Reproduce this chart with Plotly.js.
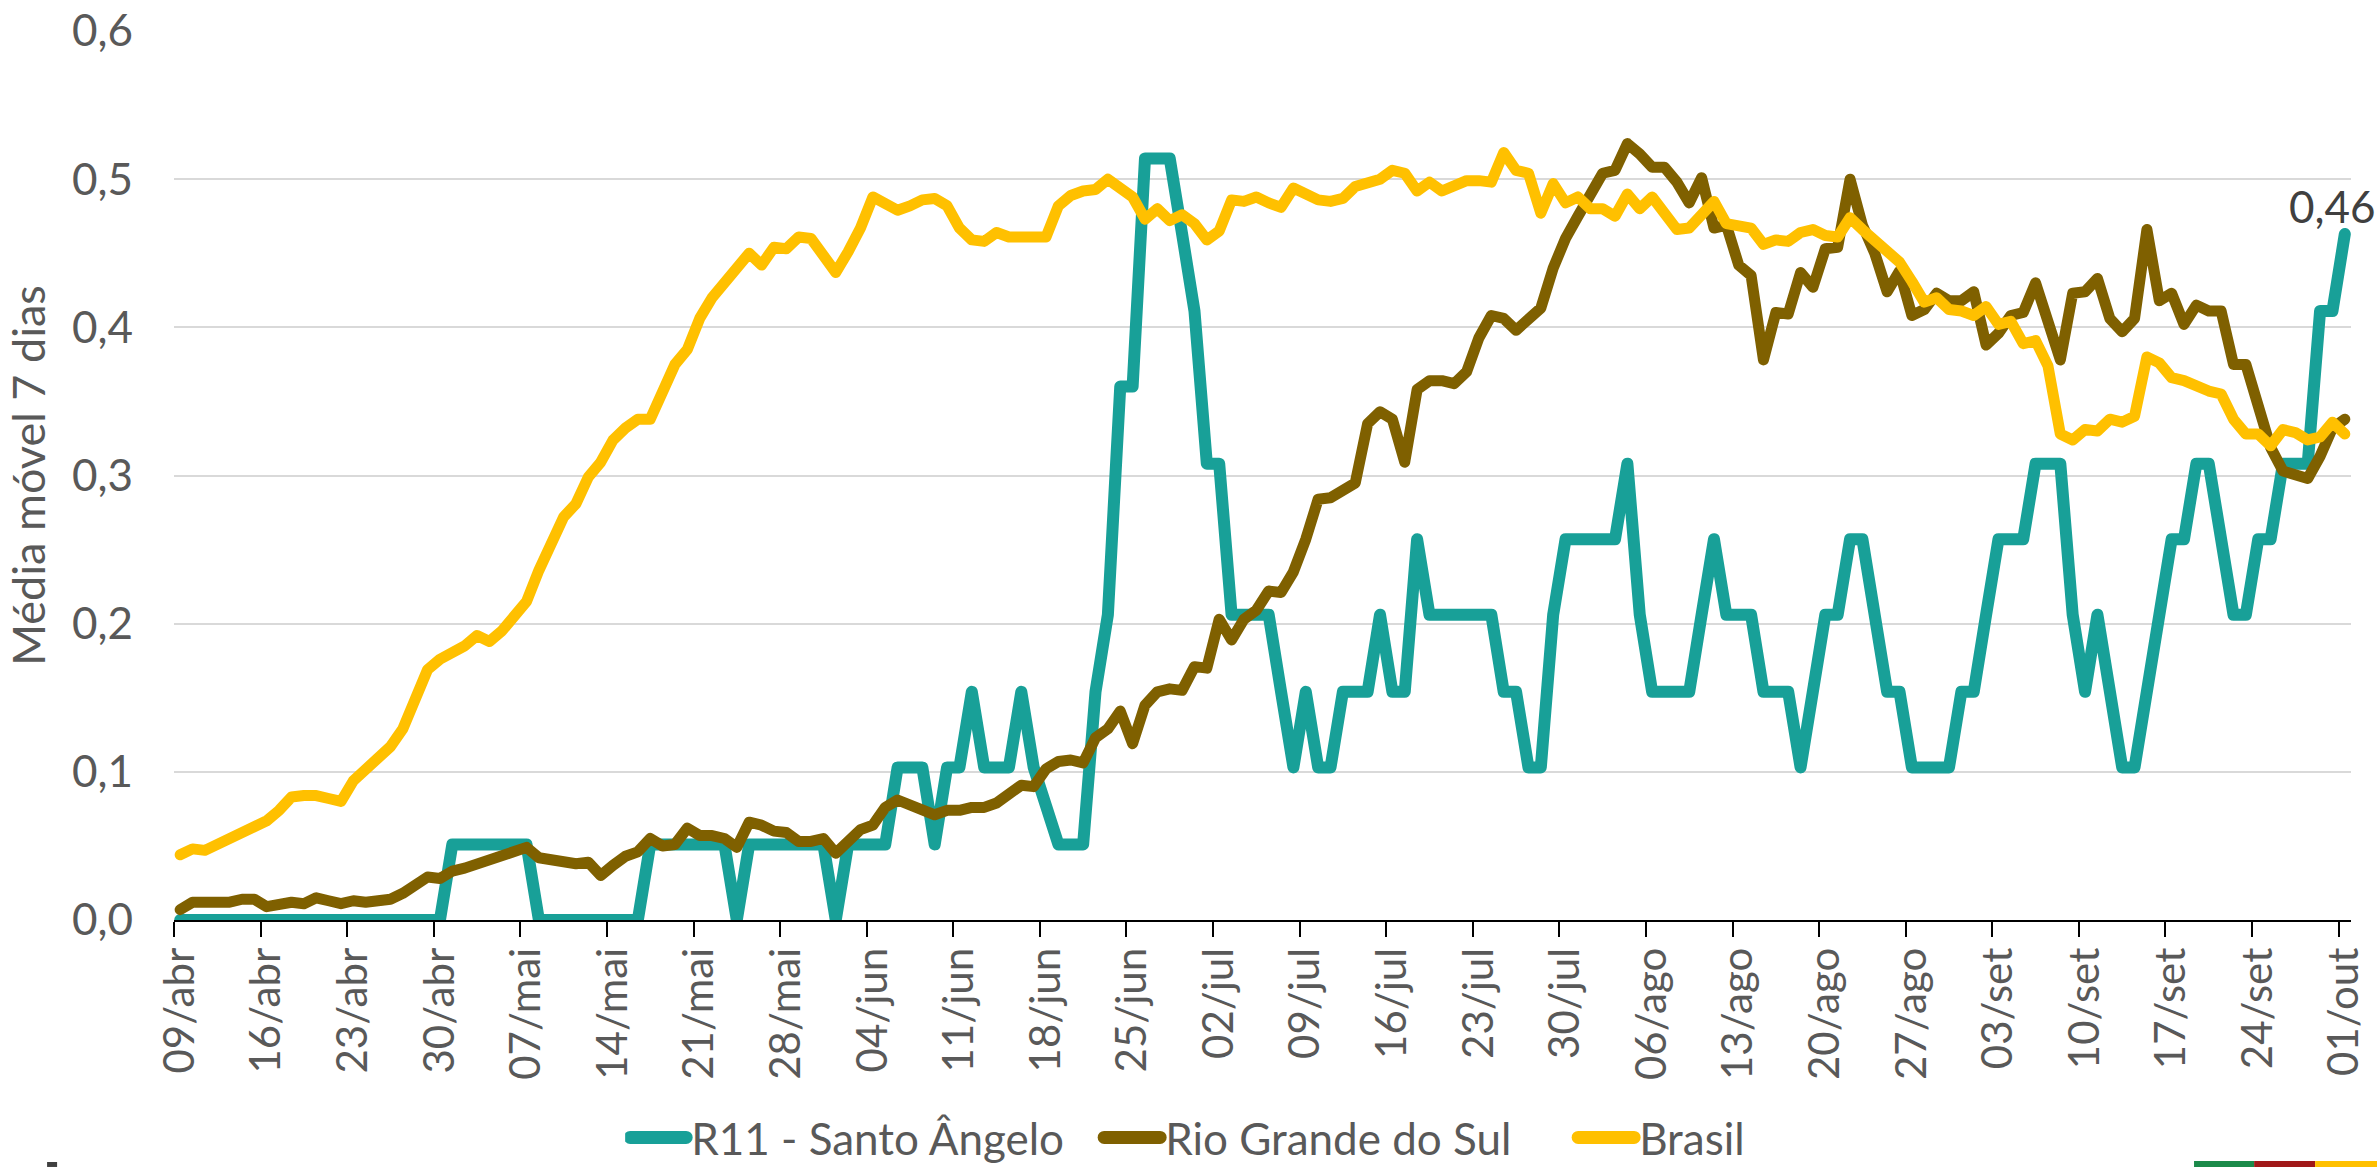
<!DOCTYPE html>
<html>
<head>
<meta charset="utf-8">
<script src="https://cdn.plot.ly/plotly-3.0.1.min.js"></script>
<style>
  html, body { margin: 0; padding: 0; background: #ffffff; }
  #chart { width: 2377px; height: 1167px; }
  .scatterlayer .js-line { stroke-linejoin: round !important; stroke-linecap: round !important; }
  .legendlines path { stroke-linecap: round !important; stroke-width: 13px !important; }
</style>
</head>
<body>
<div id="chart"></div>
<script>
// ---- Data (7-day moving average), one value per day from 09/abr to 01/out ----
const startDate = [2020, 3, 9];             // 09/abr/2020
const mesesPt = ['jan','fev','mar','abr','mai','jun','jul','ago','set','out','nov','dez'];

const serieNomes = ['R11 - Santo Ângelo', 'Rio Grande do Sul', 'Brasil'];
const serieCores = ['#18A098', '#7F6000', '#FFC000'];

const santoAngelo = [
  0,0,0,0,0,0,0,0,0,0,
  0,0,0,0,0,0,0,0,0,0,
  0,0,0.051,0.051,0.051,0.051,0.051,0.051,0.051,0,
  0,0,0,0,0,0,0,0,0.051,0.051,
  0.051,0.051,0.051,0.051,0.051,0,0.051,0.051,0.051,0.051,
  0.051,0.051,0.051,0,0.051,0.051,0.051,0.051,0.103,0.103,
  0.103,0.051,0.103,0.103,0.154,0.103,0.103,0.103,0.154,0.103,
  0.077,0.051,0.051,0.051,0.154,0.206,0.360,0.360,0.514,0.514,
  0.514,0.463,0.411,0.308,0.308,0.206,0.206,0.206,0.206,0.154,
  0.103,0.154,0.103,0.103,0.154,0.154,0.154,0.206,0.154,0.154,
  0.257,0.206,0.206,0.206,0.206,0.206,0.206,0.154,0.154,0.103,
  0.103,0.206,0.257,0.257,0.257,0.257,0.257,0.308,0.206,0.154,
  0.154,0.154,0.154,0.206,0.257,0.206,0.206,0.206,0.154,0.154,
  0.154,0.103,0.154,0.206,0.206,0.257,0.257,0.206,0.154,0.154,
  0.103,0.103,0.103,0.103,0.154,0.154,0.206,0.257,0.257,0.257,
  0.308,0.308,0.308,0.206,0.154,0.206,0.154,0.103,0.103,0.154,
  0.206,0.257,0.257,0.308,0.308,0.257,0.206,0.206,0.257,0.257,
  0.308,0.308,0.308,0.411,0.411,0.463
];

const rioGrandeDoSul = [
  0.007,0.012,0.012,0.012,0.012,0.014,0.014,0.009,0.011,0.012,
  0.011,0.015,0.013,0.011,0.013,0.012,0.013,0.014,0.018,0.023,
  0.029,0.028,0.033,0.035,0.038,0.041,0.043,0.046,0.049,0.042,
  0.041,0.040,0.038,0.039,0.030,0.037,0.043,0.046,0.055,0.050,
  0.051,0.062,0.057,0.057,0.055,0.049,0.066,0.064,0.060,0.059,
  0.053,0.053,0.055,0.045,0.053,0.061,0.064,0.076,0.081,0.078,
  0.075,0.071,0.074,0.074,0.076,0.076,0.079,0.086,0.091,0.090,
  0.102,0.107,0.108,0.106,0.123,0.129,0.141,0.119,0.145,0.154,
  0.156,0.155,0.171,0.170,0.203,0.189,0.203,0.209,0.222,0.221,
  0.235,0.257,0.284,0.285,0.291,0.295,0.335,0.343,0.338,0.309,
  0.358,0.364,0.364,0.362,0.370,0.393,0.408,0.406,0.398,0.406,
  0.413,0.440,0.460,0.475,0.490,0.504,0.506,0.524,0.517,0.508,
  0.508,0.498,0.484,0.501,0.467,0.469,0.442,0.435,0.378,0.410,
  0.409,0.437,0.427,0.453,0.454,0.500,0.469,0.450,0.424,0.438,
  0.408,0.412,0.423,0.418,0.418,0.424,0.388,0.396,0.408,0.410,
  0.430,0.404,0.378,0.423,0.424,0.433,0.406,0.397,0.406,0.466,
  0.418,0.423,0.402,0.415,0.411,0.411,0.375,0.375,0.348,0.319,
  0.303,0.301,0.298,0.313,0.332,0.338
];

const brasil = [
  0.044,0.048,0.047,0.051,0.054,0.060,0.064,0.067,0.074,0.083,
  0.084,0.084,0.082,0.080,0.094,0.102,0.110,0.117,0.129,0.147,
  0.169,0.176,0.180,0.185,0.192,0.188,0.195,0.204,0.215,0.236,
  0.255,0.272,0.281,0.299,0.309,0.324,0.332,0.338,0.338,0.356,
  0.375,0.385,0.406,0.420,0.430,0.441,0.450,0.442,0.454,0.453,
  0.461,0.460,0.448,0.437,0.451,0.467,0.488,0.483,0.479,0.482,
  0.486,0.487,0.482,0.467,0.459,0.458,0.464,0.461,0.461,0.461,
  0.461,0.482,0.489,0.492,0.493,0.500,0.494,0.488,0.473,0.480,
  0.472,0.476,0.470,0.459,0.465,0.486,0.485,0.488,0.484,0.481,
  0.494,0.490,0.486,0.485,0.487,0.495,0.498,0.500,0.506,0.504,
  0.492,0.498,0.492,0.496,0.499,0.499,0.498,0.518,0.506,0.504,
  0.477,0.497,0.484,0.488,0.480,0.480,0.475,0.490,0.480,0.488,
  0.478,0.466,0.467,0.477,0.485,0.470,0.469,0.467,0.456,0.459,
  0.458,0.464,0.466,0.462,0.461,0.474,0.466,0.458,0.452,0.444,
  0.431,0.417,0.420,0.412,0.411,0.408,0.414,0.402,0.404,0.389,
  0.391,0.374,0.328,0.324,0.331,0.330,0.338,0.336,0.340,0.380,
  0.376,0.366,0.364,0.360,0.357,0.355,0.338,0.328,0.328,0.320,
  0.331,0.329,0.324,0.326,0.336,0.328
];

const yTickVals = [0, 0.1, 0.2, 0.3, 0.4, 0.5, 0.6];
const yTitulo = 'Média móvel 7 dias';

// ---- Daily category labels "dd/mmm" ----
const t0 = Date.UTC(startDate[0], startDate[1], startDate[2]);
const dias = brasil.map((_, i) => {
  const d = new Date(t0 + i * 86400000);
  return String(d.getUTCDate()).padStart(2, '0') + '/' + mesesPt[d.getUTCMonth()];
});

const series = [santoAngelo, rioGrandeDoSul, brasil];
const widths = [12, 11, 11];

const traces = series.map((vals, k) => ({
  type: 'scatter',
  mode: 'lines',
  name: serieNomes[k],
  x: dias,
  y: vals,
  line: { color: serieCores[k], width: widths[k], shape: 'linear' },
  hoverinfo: 'skip'
}));

const last = santoAngelo.length - 1;
const rotuloFinal = santoAngelo[last].toFixed(2).replace('.', ',');

const layout = {
  width: 2377,
  height: 1167,
  margin: { l: 174, r: 26, t: 31, b: 247, autoexpand: false },
  paper_bgcolor: '#ffffff',
  plot_bgcolor: '#ffffff',
  separators: ',.',
  font: { family: 'Lato, "Open Sans", sans-serif', color: '#595959', size: 44 },
  showlegend: true,
  xaxis: {
    type: 'category',
    range: [-0.5, dias.length - 0.5],
    tickmode: 'linear',
    tick0: 0,
    dtick: 7,
    tickson: 'boundaries',
    tickangle: -90,
    ticks: 'outside',
    ticklen: 15,
    tickwidth: 2,
    tickcolor: '#000000',
    ticklabelstandoff: 9,
    showline: true,
    linecolor: '#000000',
    linewidth: 2,
    showgrid: false,
    zeroline: false,
    tickfont: { size: 42, color: '#595959' },
    fixedrange: true
  },
  yaxis: {
    range: [0, 0.6],
    tickmode: 'array',
    tickvals: yTickVals,
    tickformat: '.1f',
    showgrid: true,
    gridcolor: '#d9d9d9',
    gridwidth: 2,
    zeroline: false,
    showline: false,
    ticks: '',
    ticklabelstandoff: 40,
    tickfont: { size: 44, color: '#595959' },
    title: { text: yTitulo, font: { size: 45, color: '#595959' }, standoff: 12 },
    fixedrange: true
  },
  legend: {
    orientation: 'h',
    xref: 'container',
    yref: 'container',
    x: 0.263,
    y: 0.025,
    xanchor: 'left',
    yanchor: 'middle',
    itemwidth: 56,
    entrywidth: 403,
    entrywidthmode: 'pixels',
    font: { size: 44, color: '#595959' },
    bgcolor: 'rgba(0,0,0,0)'
  },
  annotations: [{
    x: dias[last],
    y: santoAngelo[last],
    xref: 'x',
    yref: 'y',
    text: rotuloFinal,
    showarrow: false,
    yshift: 28,
    xshift: -12,
    font: { size: 44, color: '#404040' }
  }],
  shapes: [
    { type: 'rect', xref: 'paper', yref: 'paper', x0: 0.9279, x1: 0.9555, y0: -0.2778, y1: -0.2711, fillcolor: '#1B8A4A', line: { width: 0 } },
    { type: 'rect', xref: 'paper', yref: 'paper', x0: 0.9555, x1: 0.9835, y0: -0.2778, y1: -0.2711, fillcolor: '#A01818', line: { width: 0 } },
    { type: 'rect', xref: 'paper', yref: 'paper', x0: 0.9835, x1: 1.0200, y0: -0.2778, y1: -0.2711, fillcolor: '#FFC000', line: { width: 0 } },
    { type: 'rect', xref: 'paper', yref: 'paper', x0: -0.0583, x1: -0.0537, y0: -0.2778, y1: -0.2722, fillcolor: '#404040', line: { width: 0 } }
  ]
};

Plotly.newPlot('chart', traces, layout, { staticPlot: true, displayModeBar: false });
</script>
</body>
</html>
